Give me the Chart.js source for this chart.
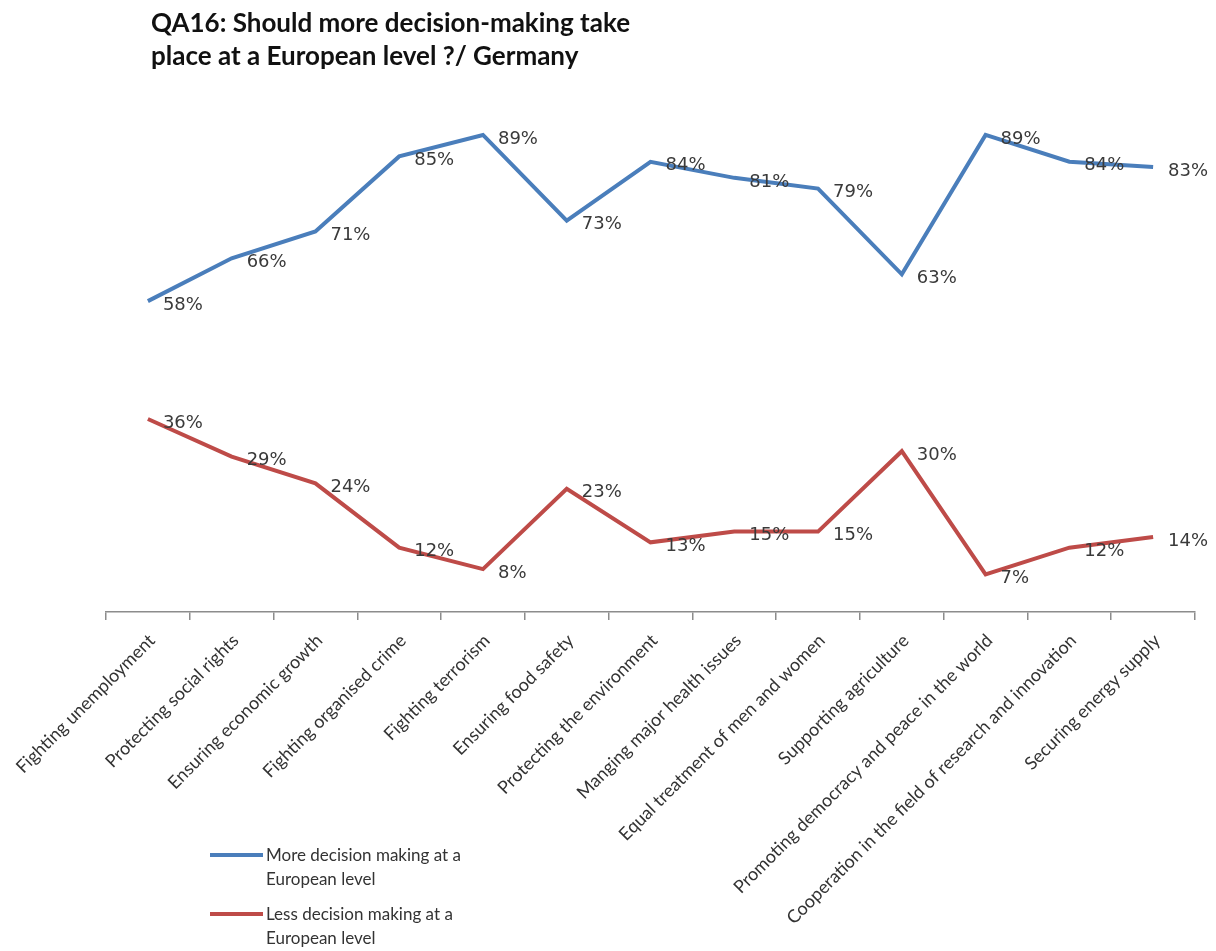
<!DOCTYPE html>
<html lang="en">
<head>
<meta charset="UTF-8">
<title>QA16 Germany</title>
<script src="https://cdn.jsdelivr.net/npm/chart.js"></script>
<style>
  body { margin: 0; background: #fff; font-family: Lato, "Open Sans", sans-serif; }
  #wrap { position: relative; width: 1216px; height: 951px; }
  #title { position: absolute; left: 151px; top: 6px; font-size: 26px; font-weight: bold; line-height: 33px; color: #111; }
  #legend { position: absolute; left: 210px; top: 843px; font-size: 17px; color: #333; line-height: 24px; }
  .item { display: flex; align-items: flex-start; margin-bottom: 11px; }
  .swatch { width: 53px; height: 4px; margin-top: 10px; margin-right: 3px; }
</style>
</head>
<body>
<div id="wrap">
  <canvas id="chart" width="1216" height="951"></canvas>
  <div id="title">QA16: Should more decision-making take<br>place at a European level ?/ Germany</div>
  <div id="legend"></div>
</div>
<script>
const categories = [
  "Fighting unemployment",
  "Protecting social rights",
  "Ensuring economic growth",
  "Fighting organised crime",
  "Fighting terrorism",
  "Ensuring food safety",
  "Protecting the environment",
  "Manging major health issues",
  "Equal treatment of men and women",
  "Supporting agriculture",
  "Promoting democracy and peace in the world",
  "Cooperation in the field of research and innovation",
  "Securing energy supply"
];
const moreValues = [58, 66, 71, 85, 89, 73, 84, 81, 79, 63, 89, 84, 83];
const lessValues = [36, 29, 24, 12, 8, 23, 13, 15, 15, 30, 7, 12, 14];
const seriesNames = [
  ["More decision making at a", "European level"],
  ["Less decision making at a", "European level"]
];
const seriesColors = ["#4A7EBB", "#BE4B48"];

// draws the "58%" style labels right of each point
const pointLabels = {
  id: 'pointLabels',
  afterDatasetsDraw(chart) {
    const ctx = chart.ctx;
    ctx.save();
    ctx.font = '18px "DejaVu Sans", sans-serif';
    ctx.fillStyle = '#3a3a3a';
    ctx.textBaseline = 'middle';
    chart.data.datasets.forEach((ds, i) => {
      chart.getDatasetMeta(i).data.forEach((pt, j) => {
        ctx.fillText(ds.data[j] + '%', pt.x + 15, pt.y + 4);
      });
    });
    ctx.restore();
  }
};

const ctx = document.getElementById('chart').getContext('2d');
new Chart(ctx, {
  type: 'line',
  data: {
    labels: categories,
    datasets: [
      { label: seriesNames[0].join(' '), data: moreValues, borderColor: seriesColors[0], borderWidth: 4, pointRadius: 0, tension: 0 },
      { label: seriesNames[1].join(' '), data: lessValues, borderColor: seriesColors[1], borderWidth: 4, pointRadius: 0, tension: 0 }
    ]
  },
  options: {
    responsive: false,
    animation: false,
    layout: { padding: { left: 106, right: 21, top: 76, bottom: 0 } },
    plugins: { legend: { display: false }, tooltip: { enabled: false } },
    scales: {
      x: {
        offset: true,
        grid: { offset: true, drawOnChartArea: false, tickLength: 8, color: '#8c8c8c', lineWidth: 1.5 },
        border: { color: '#8c8c8c', width: 1.5 },
        ticks: { minRotation: 45, maxRotation: 45, color: '#333', font: { family: 'Lato', size: 18 }, padding: 10, labelOffset: 4 },
        afterFit(scale) { scale.height = 951 - 612; }
      },
      y: { display: false, min: 0, max: 100 }
    }
  },
  plugins: [pointLabels]
});

const legend = document.getElementById('legend');
seriesNames.forEach((lines, i) => {
  const item = document.createElement('div');
  item.className = 'item';
  item.innerHTML = '<div class="swatch" style="background:' + seriesColors[i] + '"></div><div>' + lines.join('<br>') + '</div>';
  legend.appendChild(item);
});
</script>
</body>
</html>
